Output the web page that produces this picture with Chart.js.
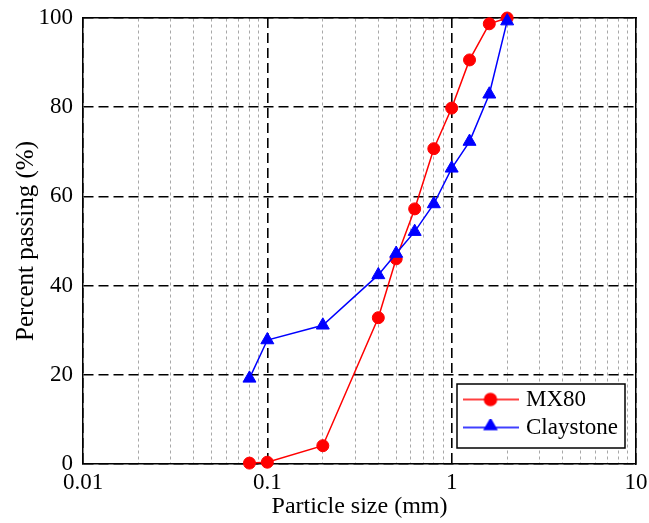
<!DOCTYPE html>
<html><head><meta charset="utf-8">
<script src="https://cdn.jsdelivr.net/npm/chart.js@4.4.1/dist/chart.umd.min.js"></script>
<style>html,body{margin:0;padding:0;background:#fff;}#wrap{width:649px;height:523px;position:relative;}</style>
</head><body><div id="wrap"><canvas id="c" width="649" height="523" style="width:649px;height:523px"></canvas></div>
<script>
const particleSizes = [0.08, 0.1, 0.2, 0.4, 0.5, 0.63, 0.8, 1, 1.25, 1.6, 2];
const mx80Passing = [0.2, 0.4, 4.1, 32.8, 46, 57.2, 70.7, 79.8, 90.6, 98.7, 100];
const claystonePassing = [19.2, 27.8, 31.1, 42.4, 47.2, 52.1, 58.3, 66.3, 72.3, 82.9, 99.3];
const seriesNames = ['MX80', 'Claystone'];
const xMajorTicks = [0.01, 0.1, 1, 10];
const xMinorTicks = [0.02,0.03,0.04,0.05,0.06,0.07,0.08,0.09,0.2,0.3,0.4,0.5,0.6,0.7,0.8,0.9,2,3,4,5,6,7,8,9];
const yTicks = [0, 20, 40, 60, 80, 100];
const xTitle = 'Particle size (mm)';
const yTitle = 'Percent passing (%)';

const FONT = "'Times New Roman', 'Liberation Serif', serif";

function legendSymbol(color, style) {
  const c = document.createElement('canvas');
  c.width = 56; c.height = 18;
  const g = c.getContext('2d');
  g.strokeStyle = color; g.fillStyle = color; g.lineWidth = 1.5;
  g.beginPath(); g.moveTo(0, 9); g.lineTo(56, 9); g.stroke();
  g.beginPath();
  if (style === 'circle') {
    g.arc(28, 9, 6, 0, Math.PI * 2);
  } else {
    const r = 7, cy = 9 - 1.5;
    for (let k = 0; k < 3; k++) {
      const a = k * 2 * Math.PI / 3;
      const px = 28 + Math.sin(a) * r, py = cy - Math.cos(a) * r;
      if (k === 0) g.moveTo(px, py); else g.lineTo(px, py);
    }
    g.closePath();
  }
  g.fill(); g.stroke();
  return c;
}
const symbols = [legendSymbol('#ff0000', 'circle'), legendSymbol('#0000ff', 'triangle')];

const legendFrame = { right: 11, bottom: 16, width: 168, height: 64 };
const legendPlacer = {
  id: 'legendPlacer',
  beforeDraw(chart) {
    const lg = chart.legend, ca = chart.chartArea;
    const pad = lg.options.labels.padding;
    const fx = ca.right - legendFrame.right - legendFrame.width;
    const fy = ca.bottom - legendFrame.bottom - legendFrame.height;
    lg.left = fx + 9.5 - pad;
    lg.top = fy + 4 - pad;
    lg.right = ca.right;
    lg.bottom = ca.bottom;
    lg.width = lg.right - lg.left;
    lg.height = lg.bottom - lg.top;
    lg.adjustHitBoxes();
  },
  beforeDatasetsDraw(chart) {
    const ctx = chart.ctx, ca = chart.chartArea;
    const fx = ca.right - legendFrame.right - legendFrame.width;
    const fy = ca.bottom - legendFrame.bottom - legendFrame.height;
    ctx.save();
    ctx.fillStyle = '#fff';
    ctx.fillRect(fx, fy, legendFrame.width, legendFrame.height);
    ctx.strokeStyle = '#000';
    ctx.lineWidth = 1.5;
    ctx.strokeRect(fx, fy, legendFrame.width, legendFrame.height);
    ctx.restore();
    chart.legend.draw(chart.chartArea);
  }
};

const toPoints = (ys) => particleSizes.map((x, i) => ({ x: x, y: ys[i] }));
const noPad = s => { s.paddingTop = 0; s.paddingBottom = 0; s.paddingLeft = 0; s.paddingRight = 0; };

new Chart(document.getElementById('c'), {
  type: 'line',
  data: {
    datasets: [
      { label: seriesNames[0], data: toPoints(mx80Passing), borderColor: '#ff0000', backgroundColor: '#ff0000',
        borderWidth: 1.5, pointStyle: 'circle', pointRadius: 6, pointBorderWidth: 1, pointBackgroundColor: '#ff0000',
        pointBorderColor: '#ff0000', tension: 0, clip: false, order: 1 },
      { label: seriesNames[1], data: toPoints(claystonePassing), borderColor: '#0000ff', backgroundColor: '#0000ff',
        borderWidth: 1.5, pointStyle: 'triangle', pointRadius: 7.5, pointBorderWidth: 1, pointBackgroundColor: '#0000ff',
        pointBorderColor: '#0000ff', tension: 0, clip: false, order: 0 }
    ]
  },
  options: {
    responsive: false,
    animation: false,
    events: [],
    layout: { padding: 0 },
    plugins: {
      tooltip: { enabled: false },
      legend: {
        display: true,
        position: 'chartArea',
        align: 'start',
        labels: {
          color: '#000',
          font: { family: FONT, size: 23 },
          usePointStyle: true,
          pointStyleWidth: 48,
          boxHeight: 23,
          padding: 5,
          generateLabels(chart) {
            const items = Chart.defaults.plugins.legend.labels.generateLabels(chart);
            items.sort((a, b) => a.datasetIndex - b.datasetIndex);
            items.forEach(it => { it.pointStyle = symbols[it.datasetIndex]; });
            return items;
          }
        }
      }
    },
    scales: {
      x: {
        type: 'logarithmic', position: 'bottom', min: 0.01, max: 10,
        afterBuildTicks: s => { s.ticks = xMajorTicks.map(v => ({ value: v })); },
        ticks: { color: '#000', font: { family: FONT, size: 23 }, padding: 5, maxRotation: 0, autoSkip: false,
                 callback: v => String(v) },
        grid: { color: '#000', lineWidth: 1.6, drawTicks: false },
        border: { color: '#000', width: 1.5, dash: [10, 5] },
        title: { display: true, text: xTitle, color: '#000', font: { family: FONT, size: 24 }, padding: { top: 0, bottom: 2 } },
        afterFit: s => { s.height = 59; noPad(s); }
      },
      xT: {
        type: 'logarithmic', position: 'top', min: 0.01, max: 10,
        afterBuildTicks: s => { s.ticks = xMinorTicks.map(v => ({ value: v })); },
        ticks: { display: false },
        grid: { color: '#a8a8a8', lineWidth: 1, drawTicks: false },
        border: { color: '#000', width: 1.5, dash: [3, 3] },
        afterFit: s => { s.height = 18; noPad(s); }
      },
      y: {
        type: 'linear', position: 'left', min: 0, max: 100,
        afterBuildTicks: s => { s.ticks = yTicks.map(v => ({ value: v })); },
        ticks: { color: '#000', font: { family: FONT, size: 23 }, padding: 10 },
        grid: { color: '#000', lineWidth: 1.6, drawTicks: false },
        border: { color: '#000', width: 1.5, dash: [10, 5] },
        title: { display: true, text: yTitle, color: '#000', font: { family: FONT, size: 25 }, padding: { top: 11, bottom: 0 } },
        afterFit: s => { s.width = 83; noPad(s); }
      },
      yR: {
        type: 'linear', position: 'right', min: 0, max: 100,
        ticks: { display: false },
        grid: { display: false, drawTicks: false },
        border: { color: '#000', width: 1.5 },
        afterFit: s => { s.width = 13; noPad(s); }
      }
    }
  },
  plugins: [legendPlacer]
});
</script>
</body></html>
